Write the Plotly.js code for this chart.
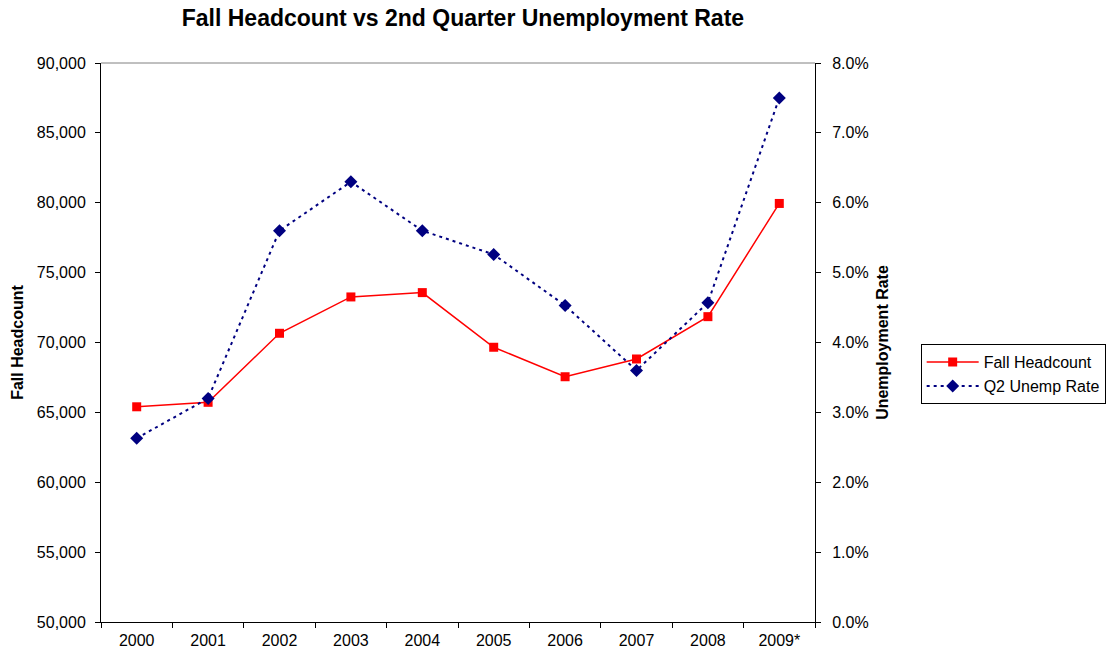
<!DOCTYPE html>
<html>
<head>
<meta charset="utf-8">
<script src="https://cdn.plot.ly/plotly-3.0.1.min.js"></script>
<style>html,body{margin:0;padding:0;background:#fff;}#chart{width:1119px;height:657px;}</style>
</head>
<body>
<div id="chart"></div>
<script>
const years = ['2000','2001','2002','2003','2004','2005','2006','2007','2008','2009*'];
const fallHeadcount = [65400, 65720, 70660, 73260, 73570, 69660, 67550, 68820, 71850, 79950];
const q2UnempRate = [0.0263, 0.0320, 0.0560, 0.0630, 0.0560, 0.0526, 0.0453, 0.0360, 0.0457, 0.0750];

const FONT = '"Liberation Sans", Arial, sans-serif';

const traces = [
  {
    x: years, y: fallHeadcount, name: 'Fall Headcount', type: 'scatter', mode: 'lines+markers',
    line: {color: '#FF0000', width: 1.5},
    marker: {symbol: 'square', size: 9, color: '#FF0000'},
    yaxis: 'y'
  },
  {
    x: years, y: q2UnempRate, name: 'Q2 Unemp Rate', type: 'scatter', mode: 'lines+markers',
    line: {color: '#000080', width: 2, dash: '3px,4px'},
    marker: {symbol: 'diamond', size: 10, color: '#000080'},
    yaxis: 'y2'
  }
];

const layout = {
  width: 1119, height: 657,
  paper_bgcolor: '#ffffff', plot_bgcolor: '#ffffff',
  font: {family: FONT, size: 16, color: '#000000'},
  margin: {l: 101, r: 304, t: 63, b: 35, pad: 0, autoexpand: false},
  title: {
    text: '<b>Fall Headcount vs 2nd Quarter Unemployment Rate</b>',
    font: {family: FONT, size: 23, color: '#000000'},
    xref: 'container', x: 0.4137, xanchor: 'center',
    yref: 'container', y: 0.9726, yanchor: 'middle'
  },
  showlegend: true,
  legend: {
    x: 1.148, y: 0.497, xanchor: 'left', yanchor: 'top',
    bordercolor: '#000000', borderwidth: 1, bgcolor: '#ffffff',
    font: {family: FONT, size: 16, color: '#000000'},
    itemwidth: 52,
    tracegroupgap: 0
  },
  xaxis: {
    type: 'category', range: [-0.5, 9.5],
    tickson: 'boundaries', ticks: 'outside', ticklen: 5, tickcolor: '#000000',
    showline: true, linecolor: '#000000', linewidth: 1,
    showgrid: false, zeroline: false, fixedrange: true,
    ticklabelstandoff: 4,
    tickfont: {family: FONT, size: 16, color: '#000000'}
  },
  yaxis: {
    range: [50000, 90000], dtick: 5000, tick0: 50000, tickformat: ',',
    ticks: 'outside', ticklen: 5, tickcolor: '#000000',
    showline: true, linecolor: '#000000', linewidth: 1,
    showgrid: false, zeroline: false,
    ticklabelstandoff: 6,
    tickfont: {family: FONT, size: 16, color: '#000000'},
    title: {text: '<b>Fall Headcount</b>', font: {family: FONT, size: 16, color: '#000000'}, standoff: 9}
  },
  yaxis2: {
    overlaying: 'y', side: 'right',
    range: [0, 0.08], dtick: 0.01, tick0: 0, tickformat: '.1%',
    ticks: 'outside', ticklen: 5, tickcolor: '#000000',
    showline: true, linecolor: '#000000', linewidth: 1,
    showgrid: false, zeroline: false,
    ticklabelstandoff: 8,
    tickfont: {family: FONT, size: 16, color: '#000000'},
    title: {text: '<b>Unemployment Rate</b>', font: {family: FONT, size: 16, color: '#000000'}, standoff: 9}
  },
  shapes: [
    {type: 'line', xref: 'paper', yref: 'paper', x0: 0, x1: 1, y0: 1, y1: 1,
     line: {color: '#808080', width: 1}}
  ]
};

Plotly.newPlot('chart', traces, layout, {displayModeBar: false, staticPlot: true});
</script>
</body>
</html>
